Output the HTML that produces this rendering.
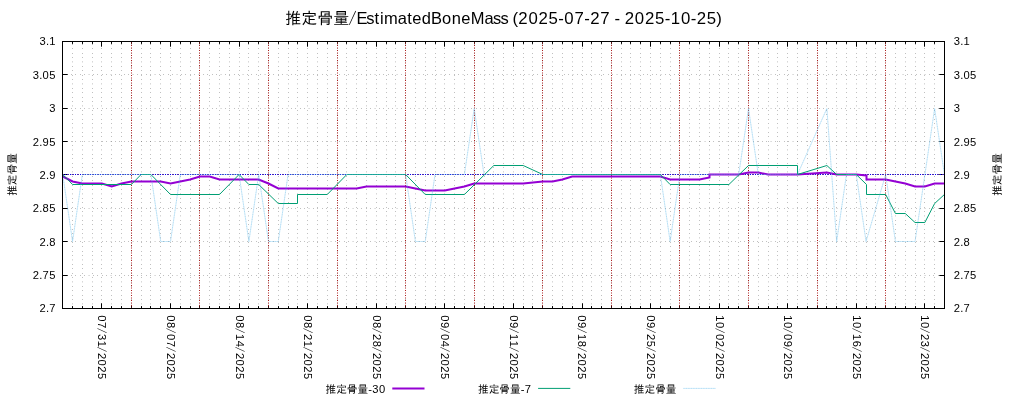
<!DOCTYPE html>
<html lang="ja"><head><meta charset="utf-8"><title>推定骨量/EstimatedBoneMass</title>
<style>html,body{margin:0;padding:0;background:#fff}svg{display:block}text{font-family:"Liberation Sans","IPAGothic",sans-serif;fill:#000}.sl{font-family:"IPAGothic","Liberation Sans",sans-serif}</style></head><body>
<svg style="will-change:transform" width="1024" height="400" viewBox="0 0 1024 400">
<rect width="1024" height="400" fill="#fff"/>
<g stroke="#000" stroke-width="1" stroke-dasharray="0.25 4.15" fill="none">
<path d="M72.5 308.5V41.5"/>
<path d="M82.5 308.5V41.5"/>
<path d="M92.5 308.5V41.5"/>
<path d="M101.5 308.5V41.5"/>
<path d="M111.5 308.5V41.5"/>
<path d="M121.5 308.5V41.5"/>
<path d="M131.5 308.5V41.5"/>
<path d="M141.5 308.5V41.5"/>
<path d="M150.5 308.5V41.5"/>
<path d="M160.5 308.5V41.5"/>
<path d="M170.5 308.5V41.5"/>
<path d="M180.5 308.5V41.5"/>
<path d="M190.5 308.5V41.5"/>
<path d="M199.5 308.5V41.5"/>
<path d="M209.5 308.5V41.5"/>
<path d="M219.5 308.5V41.5"/>
<path d="M229.5 308.5V41.5"/>
<path d="M239.5 308.5V41.5"/>
<path d="M248.5 308.5V41.5"/>
<path d="M258.5 308.5V41.5"/>
<path d="M268.5 308.5V41.5"/>
<path d="M278.5 308.5V41.5"/>
<path d="M288.5 308.5V41.5"/>
<path d="M297.5 308.5V41.5"/>
<path d="M307.5 308.5V41.5"/>
<path d="M317.5 308.5V41.5"/>
<path d="M327.5 308.5V41.5"/>
<path d="M337.5 308.5V41.5"/>
<path d="M346.5 308.5V41.5"/>
<path d="M356.5 308.5V41.5"/>
<path d="M366.5 308.5V41.5"/>
<path d="M376.5 308.5V41.5"/>
<path d="M386.5 308.5V41.5"/>
<path d="M395.5 308.5V41.5"/>
<path d="M405.5 308.5V41.5"/>
<path d="M415.5 308.5V41.5"/>
<path d="M425.5 308.5V41.5"/>
<path d="M435.5 308.5V41.5"/>
<path d="M444.5 308.5V41.5"/>
<path d="M454.5 308.5V41.5"/>
<path d="M464.5 308.5V41.5"/>
<path d="M474.5 308.5V41.5"/>
<path d="M484.5 308.5V41.5"/>
<path d="M493.5 308.5V41.5"/>
<path d="M503.5 308.5V41.5"/>
<path d="M513.5 308.5V41.5"/>
<path d="M523.5 308.5V41.5"/>
<path d="M532.5 308.5V41.5"/>
<path d="M542.5 308.5V41.5"/>
<path d="M552.5 308.5V41.5"/>
<path d="M562.5 308.5V41.5"/>
<path d="M572.5 308.5V41.5"/>
<path d="M582.5 308.5V41.5"/>
<path d="M591.5 308.5V41.5"/>
<path d="M601.5 308.5V41.5"/>
<path d="M611.5 308.5V41.5"/>
<path d="M621.5 308.5V41.5"/>
<path d="M630.5 308.5V41.5"/>
<path d="M640.5 308.5V41.5"/>
<path d="M650.5 308.5V41.5"/>
<path d="M660.5 308.5V41.5"/>
<path d="M670.5 308.5V41.5"/>
<path d="M679.5 308.5V41.5"/>
<path d="M689.5 308.5V41.5"/>
<path d="M699.5 308.5V41.5"/>
<path d="M709.5 308.5V41.5"/>
<path d="M719.5 308.5V41.5"/>
<path d="M728.5 308.5V41.5"/>
<path d="M738.5 308.5V41.5"/>
<path d="M748.5 308.5V41.5"/>
<path d="M758.5 308.5V41.5"/>
<path d="M768.5 308.5V41.5"/>
<path d="M777.5 308.5V41.5"/>
<path d="M787.5 308.5V41.5"/>
<path d="M797.5 308.5V41.5"/>
<path d="M807.5 308.5V41.5"/>
<path d="M817.5 308.5V41.5"/>
<path d="M826.5 308.5V41.5"/>
<path d="M836.5 308.5V41.5"/>
<path d="M846.5 308.5V41.5"/>
<path d="M856.5 308.5V41.5"/>
<path d="M866.5 308.5V41.5"/>
<path d="M875.5 308.5V41.5"/>
<path d="M885.5 308.5V41.5"/>
<path d="M895.5 308.5V41.5"/>
<path d="M905.5 308.5V41.5"/>
<path d="M915.5 308.5V41.5"/>
<path d="M924.5 308.5V41.5"/>
<path d="M934.5 308.5V41.5"/>
<path d="M62.5 74.5H944.5"/>
<path d="M62.5 108.5H944.5"/>
<path d="M62.5 141.5H944.5"/>
<path d="M62.5 174.5H944.5"/>
<path d="M62.5 208.5H944.5"/>
<path d="M62.5 241.5H944.5"/>
<path d="M62.5 275.5H944.5"/>
</g>
<g stroke="#000" stroke-width="1" fill="none">
<path d="M72.5 41.5v2.40M72.5 308.5v-2.40"/>
<path d="M82.5 41.5v2.40M82.5 308.5v-2.40"/>
<path d="M92.5 41.5v2.40M92.5 308.5v-2.40"/>
<path d="M101.5 41.5v5.20M101.5 308.5v-5.20"/>
<path d="M111.5 41.5v2.40M111.5 308.5v-2.40"/>
<path d="M121.5 41.5v2.40M121.5 308.5v-2.40"/>
<path d="M131.5 41.5v2.40M131.5 308.5v-2.40"/>
<path d="M141.5 41.5v2.40M141.5 308.5v-2.40"/>
<path d="M150.5 41.5v2.40M150.5 308.5v-2.40"/>
<path d="M160.5 41.5v2.40M160.5 308.5v-2.40"/>
<path d="M170.5 41.5v5.20M170.5 308.5v-5.20"/>
<path d="M180.5 41.5v2.40M180.5 308.5v-2.40"/>
<path d="M190.5 41.5v2.40M190.5 308.5v-2.40"/>
<path d="M199.5 41.5v2.40M199.5 308.5v-2.40"/>
<path d="M209.5 41.5v2.40M209.5 308.5v-2.40"/>
<path d="M219.5 41.5v2.40M219.5 308.5v-2.40"/>
<path d="M229.5 41.5v2.40M229.5 308.5v-2.40"/>
<path d="M239.5 41.5v5.20M239.5 308.5v-5.20"/>
<path d="M248.5 41.5v2.40M248.5 308.5v-2.40"/>
<path d="M258.5 41.5v2.40M258.5 308.5v-2.40"/>
<path d="M268.5 41.5v2.40M268.5 308.5v-2.40"/>
<path d="M278.5 41.5v2.40M278.5 308.5v-2.40"/>
<path d="M288.5 41.5v2.40M288.5 308.5v-2.40"/>
<path d="M297.5 41.5v2.40M297.5 308.5v-2.40"/>
<path d="M307.5 41.5v5.20M307.5 308.5v-5.20"/>
<path d="M317.5 41.5v2.40M317.5 308.5v-2.40"/>
<path d="M327.5 41.5v2.40M327.5 308.5v-2.40"/>
<path d="M337.5 41.5v2.40M337.5 308.5v-2.40"/>
<path d="M346.5 41.5v2.40M346.5 308.5v-2.40"/>
<path d="M356.5 41.5v2.40M356.5 308.5v-2.40"/>
<path d="M366.5 41.5v2.40M366.5 308.5v-2.40"/>
<path d="M376.5 41.5v5.20M376.5 308.5v-5.20"/>
<path d="M386.5 41.5v2.40M386.5 308.5v-2.40"/>
<path d="M395.5 41.5v2.40M395.5 308.5v-2.40"/>
<path d="M405.5 41.5v2.40M405.5 308.5v-2.40"/>
<path d="M415.5 41.5v2.40M415.5 308.5v-2.40"/>
<path d="M425.5 41.5v2.40M425.5 308.5v-2.40"/>
<path d="M435.5 41.5v2.40M435.5 308.5v-2.40"/>
<path d="M444.5 41.5v5.20M444.5 308.5v-5.20"/>
<path d="M454.5 41.5v2.40M454.5 308.5v-2.40"/>
<path d="M464.5 41.5v2.40M464.5 308.5v-2.40"/>
<path d="M474.5 41.5v2.40M474.5 308.5v-2.40"/>
<path d="M484.5 41.5v2.40M484.5 308.5v-2.40"/>
<path d="M493.5 41.5v2.40M493.5 308.5v-2.40"/>
<path d="M503.5 41.5v2.40M503.5 308.5v-2.40"/>
<path d="M513.5 41.5v5.20M513.5 308.5v-5.20"/>
<path d="M523.5 41.5v2.40M523.5 308.5v-2.40"/>
<path d="M532.5 41.5v2.40M532.5 308.5v-2.40"/>
<path d="M542.5 41.5v2.40M542.5 308.5v-2.40"/>
<path d="M552.5 41.5v2.40M552.5 308.5v-2.40"/>
<path d="M562.5 41.5v2.40M562.5 308.5v-2.40"/>
<path d="M572.5 41.5v2.40M572.5 308.5v-2.40"/>
<path d="M582.5 41.5v5.20M582.5 308.5v-5.20"/>
<path d="M591.5 41.5v2.40M591.5 308.5v-2.40"/>
<path d="M601.5 41.5v2.40M601.5 308.5v-2.40"/>
<path d="M611.5 41.5v2.40M611.5 308.5v-2.40"/>
<path d="M621.5 41.5v2.40M621.5 308.5v-2.40"/>
<path d="M630.5 41.5v2.40M630.5 308.5v-2.40"/>
<path d="M640.5 41.5v2.40M640.5 308.5v-2.40"/>
<path d="M650.5 41.5v5.20M650.5 308.5v-5.20"/>
<path d="M660.5 41.5v2.40M660.5 308.5v-2.40"/>
<path d="M670.5 41.5v2.40M670.5 308.5v-2.40"/>
<path d="M679.5 41.5v2.40M679.5 308.5v-2.40"/>
<path d="M689.5 41.5v2.40M689.5 308.5v-2.40"/>
<path d="M699.5 41.5v2.40M699.5 308.5v-2.40"/>
<path d="M709.5 41.5v2.40M709.5 308.5v-2.40"/>
<path d="M719.5 41.5v5.20M719.5 308.5v-5.20"/>
<path d="M728.5 41.5v2.40M728.5 308.5v-2.40"/>
<path d="M738.5 41.5v2.40M738.5 308.5v-2.40"/>
<path d="M748.5 41.5v2.40M748.5 308.5v-2.40"/>
<path d="M758.5 41.5v2.40M758.5 308.5v-2.40"/>
<path d="M768.5 41.5v2.40M768.5 308.5v-2.40"/>
<path d="M777.5 41.5v2.40M777.5 308.5v-2.40"/>
<path d="M787.5 41.5v5.20M787.5 308.5v-5.20"/>
<path d="M797.5 41.5v2.40M797.5 308.5v-2.40"/>
<path d="M807.5 41.5v2.40M807.5 308.5v-2.40"/>
<path d="M817.5 41.5v2.40M817.5 308.5v-2.40"/>
<path d="M826.5 41.5v2.40M826.5 308.5v-2.40"/>
<path d="M836.5 41.5v2.40M836.5 308.5v-2.40"/>
<path d="M846.5 41.5v2.40M846.5 308.5v-2.40"/>
<path d="M856.5 41.5v5.20M856.5 308.5v-5.20"/>
<path d="M866.5 41.5v2.40M866.5 308.5v-2.40"/>
<path d="M875.5 41.5v2.40M875.5 308.5v-2.40"/>
<path d="M885.5 41.5v2.40M885.5 308.5v-2.40"/>
<path d="M895.5 41.5v2.40M895.5 308.5v-2.40"/>
<path d="M905.5 41.5v2.40M905.5 308.5v-2.40"/>
<path d="M915.5 41.5v2.40M915.5 308.5v-2.40"/>
<path d="M924.5 41.5v5.20M924.5 308.5v-5.20"/>
<path d="M934.5 41.5v2.40M934.5 308.5v-2.40"/>
<path d="M62.5 74.5h5.20M944.5 74.5h-5.20"/>
<path d="M62.5 108.5h5.20M944.5 108.5h-5.20"/>
<path d="M62.5 141.5h5.20M944.5 141.5h-5.20"/>
<path d="M62.5 174.5h5.20M944.5 174.5h-5.20"/>
<path d="M62.5 208.5h5.20M944.5 208.5h-5.20"/>
<path d="M62.5 241.5h5.20M944.5 241.5h-5.20"/>
<path d="M62.5 275.5h5.20M944.5 275.5h-5.20"/>
</g>
<g stroke="#ac1c1c" stroke-width="1" stroke-dasharray="1 1.5" fill="none">
<path d="M131.5 308.5V41.5"/>
<path d="M199.5 308.5V41.5"/>
<path d="M268.5 308.5V41.5"/>
<path d="M337.5 308.5V41.5"/>
<path d="M405.5 308.5V41.5"/>
<path d="M474.5 308.5V41.5"/>
<path d="M542.5 308.5V41.5"/>
<path d="M611.5 308.5V41.5"/>
<path d="M679.5 308.5V41.5"/>
<path d="M748.5 308.5V41.5"/>
<path d="M817.5 308.5V41.5"/>
<path d="M885.5 308.5V41.5"/>
</g>
<path d="M62.5 174.5H944.5" stroke="#4a26b2" stroke-width="1" stroke-dasharray="2 3" stroke-dashoffset="-4.5" fill="none"/>
<path d="M62.5 174.5H944.5" stroke="#0000ff" stroke-width="1" stroke-dasharray="1 4" stroke-dashoffset="-2.5" fill="none"/>
<clipPath id="c"><rect x="62.5" y="41.5" width="882.0" height="267.0"/></clipPath>
<g clip-path="url(#c)" fill="none" stroke-linejoin="miter">
<polyline stroke="#9400d3" stroke-width="2" points="62.75,176.50 72.55,181.50 82.34,183.50 92.14,183.50 101.94,183.50 111.73,186.50 121.53,183.50 131.33,181.50 141.12,181.50 150.92,181.50 160.72,181.50 170.51,183.50 180.31,181.50 190.10,179.50 199.90,176.50 209.70,176.50 219.49,179.50 229.29,179.50 239.09,179.50 248.88,179.50 258.68,179.50 268.48,183.50 278.27,188.50 288.07,188.50 297.87,188.50 307.66,188.50 317.46,188.50 327.26,188.50 337.05,188.50 346.85,188.50 356.64,188.50 366.44,186.50 376.24,186.50 386.03,186.50 395.83,186.50 405.63,186.50 415.42,188.50 425.22,190.50 435.02,190.50 444.81,190.50 454.61,188.50 464.41,186.50 474.20,183.50 484.00,183.50 493.80,183.50 503.59,183.50 513.39,183.50 523.19,183.50 532.98,182.50 542.78,181.50 552.58,181.50 562.37,179.50 572.17,176.50 581.96,176.50 591.76,176.50 601.56,176.50 611.35,176.50 621.15,176.50 630.95,176.50 640.74,176.50 650.54,176.50 660.34,176.50 670.13,179.50 679.93,179.50 689.73,179.50 699.52,179.50 709.50,177.50 709.50,174.50 738.71,174.50 748.50,172.50 758.30,172.50 768.10,174.50 797.49,174.50 826.88,172.50 836.67,174.50 856.27,174.50 866.50,175.50 866.50,179.50 885.66,179.50 895.45,181.50 905.25,183.50 915.05,186.50 924.84,186.50 934.64,183.50 944.43,183.50"/>
<polyline stroke="#009e73" stroke-width="1" points="62.75,174.50 72.55,184.50 131.33,184.50 141.12,174.50 150.92,174.50 170.51,194.50 219.49,194.50 239.09,174.50 248.88,184.50 258.68,184.50 278.27,203.50 297.50,203.50 297.50,194.50 327.26,194.50 346.85,174.50 405.63,174.50 425.22,194.50 464.41,194.50 493.80,165.50 523.19,165.50 542.78,174.50 660.34,174.50 670.13,184.50 728.91,184.50 748.50,165.50 797.50,165.50 797.50,174.50 826.88,165.50 836.67,174.50 856.27,174.50 866.50,184.50 866.50,194.50 885.66,194.50 895.45,213.50 905.25,213.50 915.05,222.50 924.84,222.50 934.64,203.50 944.43,194.50"/>
<polyline stroke="#56b4e9" stroke-opacity="0.3" stroke-width="0.9" points="62.75,174.50 72.55,241.50 82.34,174.50 92.14,174.50 101.94,174.50 111.73,174.50 121.53,174.50 131.33,174.50 141.12,174.50 150.92,174.50 160.72,241.50 170.51,241.50 180.31,174.50 190.10,174.50 199.90,174.50 209.70,174.50 219.49,174.50 229.29,174.50 239.09,174.50 248.88,241.50 258.68,174.50 268.48,241.50 278.27,241.50 288.07,174.50 297.87,174.50 307.66,174.50 317.46,174.50 327.26,174.50 337.05,174.50 346.85,174.50 356.64,174.50 366.44,174.50 376.24,174.50 386.03,174.50 395.83,174.50 405.63,174.50 415.42,241.50 425.22,241.50 435.02,174.50 444.81,174.50 454.61,174.50 464.41,174.50 474.20,108.50 484.00,174.50 493.80,174.50 503.59,174.50 513.39,174.50 523.19,174.50 532.98,174.50 542.78,174.50 552.58,174.50 562.37,174.50 572.17,174.50 581.96,174.50 591.76,174.50 601.56,174.50 611.35,174.50 621.15,174.50 630.95,174.50 640.74,174.50 650.54,174.50 660.34,174.50 670.13,241.50 679.93,174.50 689.73,174.50 699.52,174.50 709.32,174.50 719.12,174.50 728.91,174.50 738.71,174.50 748.50,108.50 758.30,174.50 768.10,174.50 777.89,174.50 787.69,174.50 797.49,174.50 826.88,108.50 836.67,241.50 846.47,174.50 856.27,174.50 866.06,241.50 885.66,174.50 895.45,241.50 905.25,241.50 915.05,241.50 934.64,108.50 944.43,174.50"/>
<polyline stroke="#56b4e9" stroke-opacity="0.3" stroke-width="0.9" stroke-dasharray="1 1.5" points="62.75,174.50 72.55,241.50 82.34,174.50 92.14,174.50 101.94,174.50 111.73,174.50 121.53,174.50 131.33,174.50 141.12,174.50 150.92,174.50 160.72,241.50 170.51,241.50 180.31,174.50 190.10,174.50 199.90,174.50 209.70,174.50 219.49,174.50 229.29,174.50 239.09,174.50 248.88,241.50 258.68,174.50 268.48,241.50 278.27,241.50 288.07,174.50 297.87,174.50 307.66,174.50 317.46,174.50 327.26,174.50 337.05,174.50 346.85,174.50 356.64,174.50 366.44,174.50 376.24,174.50 386.03,174.50 395.83,174.50 405.63,174.50 415.42,241.50 425.22,241.50 435.02,174.50 444.81,174.50 454.61,174.50 464.41,174.50 474.20,108.50 484.00,174.50 493.80,174.50 503.59,174.50 513.39,174.50 523.19,174.50 532.98,174.50 542.78,174.50 552.58,174.50 562.37,174.50 572.17,174.50 581.96,174.50 591.76,174.50 601.56,174.50 611.35,174.50 621.15,174.50 630.95,174.50 640.74,174.50 650.54,174.50 660.34,174.50 670.13,241.50 679.93,174.50 689.73,174.50 699.52,174.50 709.32,174.50 719.12,174.50 728.91,174.50 738.71,174.50 748.50,108.50 758.30,174.50 768.10,174.50 777.89,174.50 787.69,174.50 797.49,174.50 826.88,108.50 836.67,241.50 846.47,174.50 856.27,174.50 866.06,241.50 885.66,174.50 895.45,241.50 905.25,241.50 915.05,241.50 934.64,108.50 944.43,174.50"/>
</g>
<g stroke="#000" stroke-width="1" fill="none" shape-rendering="crispEdges">
<rect x="62.5" y="41.5" width="882.0" height="267.0"/>
</g>
<text font-size="10.67" x="39.59 45.92 49.13" y="45.45"><tspan font-size="11.20">3.1</tspan></text>
<text font-size="10.67" x="953.84 960.17 963.38" y="45.45"><tspan font-size="11.20">3.1</tspan></text>
<text font-size="10.67" x="32.87 39.20 42.41 49.13" y="78.83"><tspan font-size="11.20">3.05</tspan></text>
<text font-size="10.67" x="953.84 960.17 963.38 970.10" y="78.83"><tspan font-size="11.20">3.05</tspan></text>
<text font-size="10.67" x="49.13" y="112.20"><tspan font-size="11.20">3</tspan></text>
<text font-size="10.67" x="953.84" y="112.20"><tspan font-size="11.20">3</tspan></text>
<text font-size="10.67" x="32.87 39.20 42.41 49.13" y="145.57"><tspan font-size="11.20">2.95</tspan></text>
<text font-size="10.67" x="953.84 960.17 963.38 970.10" y="145.57"><tspan font-size="11.20">2.95</tspan></text>
<text font-size="10.67" x="39.59 45.92 49.13" y="178.95"><tspan font-size="11.20">2.9</tspan></text>
<text font-size="10.67" x="953.84 960.17 963.38" y="178.95"><tspan font-size="11.20">2.9</tspan></text>
<text font-size="10.67" x="32.87 39.20 42.41 49.13" y="212.32"><tspan font-size="11.20">2.85</tspan></text>
<text font-size="10.67" x="953.84 960.17 963.38 970.10" y="212.32"><tspan font-size="11.20">2.85</tspan></text>
<text font-size="10.67" x="39.59 45.92 49.13" y="245.70"><tspan font-size="11.20">2.8</tspan></text>
<text font-size="10.67" x="953.84 960.17 963.38" y="245.70"><tspan font-size="11.20">2.8</tspan></text>
<text font-size="10.67" x="32.87 39.20 42.41 49.13" y="279.08"><tspan font-size="11.20">2.75</tspan></text>
<text font-size="10.67" x="953.84 960.17 963.38 970.10" y="279.08"><tspan font-size="11.20">2.75</tspan></text>
<text font-size="10.67" x="39.59 45.92 49.13" y="312.45"><tspan font-size="11.20">2.7</tspan></text>
<text font-size="10.67" x="953.84 960.17 963.38" y="312.45"><tspan font-size="11.20">2.7</tspan></text>
<text font-size="10.67" x="0.24 6.96 13.01 19.02 25.74 31.78 37.79 44.51 51.23 57.94" y="4.00" transform="translate(102.40,315.1) rotate(90)"><tspan font-size="11.20">07</tspan><tspan class="sl">/</tspan><tspan font-size="11.20">31</tspan><tspan class="sl">/</tspan><tspan font-size="11.20">2025</tspan></text>
<text font-size="10.67" x="0.24 6.96 13.01 19.02 25.74 31.78 37.79 44.51 51.23 57.94" y="4.00" transform="translate(170.97,315.1) rotate(90)"><tspan font-size="11.20">08</tspan><tspan class="sl">/</tspan><tspan font-size="11.20">07</tspan><tspan class="sl">/</tspan><tspan font-size="11.20">2025</tspan></text>
<text font-size="10.67" x="0.24 6.96 13.01 19.02 25.74 31.78 37.79 44.51 51.23 57.94" y="4.00" transform="translate(239.55,315.1) rotate(90)"><tspan font-size="11.20">08</tspan><tspan class="sl">/</tspan><tspan font-size="11.20">14</tspan><tspan class="sl">/</tspan><tspan font-size="11.20">2025</tspan></text>
<text font-size="10.67" x="0.24 6.96 13.01 19.02 25.74 31.78 37.79 44.51 51.23 57.94" y="4.00" transform="translate(308.12,315.1) rotate(90)"><tspan font-size="11.20">08</tspan><tspan class="sl">/</tspan><tspan font-size="11.20">21</tspan><tspan class="sl">/</tspan><tspan font-size="11.20">2025</tspan></text>
<text font-size="10.67" x="0.24 6.96 13.01 19.02 25.74 31.78 37.79 44.51 51.23 57.94" y="4.00" transform="translate(376.70,315.1) rotate(90)"><tspan font-size="11.20">08</tspan><tspan class="sl">/</tspan><tspan font-size="11.20">28</tspan><tspan class="sl">/</tspan><tspan font-size="11.20">2025</tspan></text>
<text font-size="10.67" x="0.24 6.96 13.01 19.02 25.74 31.78 37.79 44.51 51.23 57.94" y="4.00" transform="translate(445.27,315.1) rotate(90)"><tspan font-size="11.20">09</tspan><tspan class="sl">/</tspan><tspan font-size="11.20">04</tspan><tspan class="sl">/</tspan><tspan font-size="11.20">2025</tspan></text>
<text font-size="10.67" x="0.24 6.96 13.01 19.02 25.74 31.78 37.79 44.51 51.23 57.94" y="4.00" transform="translate(513.85,315.1) rotate(90)"><tspan font-size="11.20">09</tspan><tspan class="sl">/</tspan><tspan font-size="11.20">11</tspan><tspan class="sl">/</tspan><tspan font-size="11.20">2025</tspan></text>
<text font-size="10.67" x="0.24 6.96 13.01 19.02 25.74 31.78 37.79 44.51 51.23 57.94" y="4.00" transform="translate(582.42,315.1) rotate(90)"><tspan font-size="11.20">09</tspan><tspan class="sl">/</tspan><tspan font-size="11.20">18</tspan><tspan class="sl">/</tspan><tspan font-size="11.20">2025</tspan></text>
<text font-size="10.67" x="0.24 6.96 13.01 19.02 25.74 31.78 37.79 44.51 51.23 57.94" y="4.00" transform="translate(651.00,315.1) rotate(90)"><tspan font-size="11.20">09</tspan><tspan class="sl">/</tspan><tspan font-size="11.20">25</tspan><tspan class="sl">/</tspan><tspan font-size="11.20">2025</tspan></text>
<text font-size="10.67" x="0.24 6.96 13.01 19.02 25.74 31.78 37.79 44.51 51.23 57.94" y="4.00" transform="translate(719.58,315.1) rotate(90)"><tspan font-size="11.20">10</tspan><tspan class="sl">/</tspan><tspan font-size="11.20">02</tspan><tspan class="sl">/</tspan><tspan font-size="11.20">2025</tspan></text>
<text font-size="10.67" x="0.24 6.96 13.01 19.02 25.74 31.78 37.79 44.51 51.23 57.94" y="4.00" transform="translate(788.15,315.1) rotate(90)"><tspan font-size="11.20">10</tspan><tspan class="sl">/</tspan><tspan font-size="11.20">09</tspan><tspan class="sl">/</tspan><tspan font-size="11.20">2025</tspan></text>
<text font-size="10.67" x="0.24 6.96 13.01 19.02 25.74 31.78 37.79 44.51 51.23 57.94" y="4.00" transform="translate(856.73,315.1) rotate(90)"><tspan font-size="11.20">10</tspan><tspan class="sl">/</tspan><tspan font-size="11.20">16</tspan><tspan class="sl">/</tspan><tspan font-size="11.20">2025</tspan></text>
<text font-size="10.67" x="0.24 6.96 13.01 19.02 25.74 31.78 37.79 44.51 51.23 57.94" y="4.00" transform="translate(925.30,315.1) rotate(90)"><tspan font-size="11.20">10</tspan><tspan class="sl">/</tspan><tspan font-size="11.20">23</tspan><tspan class="sl">/</tspan><tspan font-size="11.20">2025</tspan></text>
<text font-size="10.67" x="-21.33 -10.67 0.00 10.67" y="0.00" transform="translate(16.4,174.5) rotate(-90)">推定骨量</text>
<text font-size="10.67" x="-21.33 -10.67 0.00 10.67" y="0.00" transform="translate(1001.4,174.5) rotate(-90)">推定骨量</text>
<text font-size="16.00" x="285.19 301.19 317.19 333.19 348.55 356.46 366.29 374.59 379.97 384.07 397.72 407.18 412.21 421.75 431.10 442.12 451.78 461.17 470.65 484.55 493.10 500.49 508.13 512.50 518.32 528.40 538.48 548.56 558.34 564.36 574.44 584.22 590.25 600.32 609.86 614.42 619.91 624.77 634.85 644.93 655.00 664.78 670.81 680.89 690.66 696.69 706.77 716.35" y="24.30">推定骨量<tspan class="sl">/</tspan><tspan font-size="16.48">EstimatedBoneMass</tspan><tspan font-size="16.80"> (2025-07-27 - 2025-10-25)</tspan></text>
<text font-size="10.67" x="325.48 336.14 346.81 357.48 368.19 372.21 378.93" y="392.90">推定骨量<tspan font-size="11.20">-30</tspan></text>
<path d="M392.3 388.4H424.5" stroke="#9400d3" stroke-width="2" stroke-opacity="1" fill="none"/>
<text font-size="10.67" x="478.00 488.66 499.33 510.00 520.71 524.73" y="392.90">推定骨量<tspan font-size="11.20">-7</tspan></text>
<path d="M538.1 388.4H570.3" stroke="#009e73" stroke-width="1" stroke-opacity="1" fill="none"/>
<text font-size="10.67" x="633.83 644.50 655.17 665.83" y="392.90">推定骨量</text>
<path d="M683.4 388.4H715.9" stroke="#56b4e9" stroke-width="0.9" stroke-opacity="0.3" fill="none"/>
<path d="M683.4 388.4H715.9" stroke="#56b4e9" stroke-width="0.9" stroke-opacity="0.3" stroke-dasharray="1 1.5" fill="none"/>
</svg></body></html>
